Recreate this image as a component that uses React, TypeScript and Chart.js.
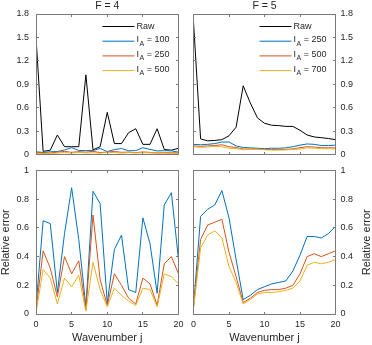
import React, { useEffect, useRef } from 'react';
import { Chart, registerables } from 'chart.js';

Chart.register(...registerables);

// ---------------- data ----------------
const wavenumbers = [0, 1, 2, 3, 4, 5, 6, 7, 8, 9, 10, 11, 12, 13, 14, 15, 16, 17, 18, 19, 20];
const xTicks = [0, 5, 10, 15, 20];

const iaLevelsF4 = [100, 250, 500];
const iaLevelsF5 = [250, 500, 700];

// F = 4, top (absolute)
const rawF4 = [1.5, 0.04, 0.055, 0.25, 0.1, 0.1, 0.1, 1.02, 0.06, 0.1, 0.54, 0.14, 0.14, 0.28, 0.33, 0.13, 0.13, 0.33, 0.065, 0.055, 0.08];
const ia100F4 = [0.035, 0.026, 0.035, 0.038, 0.058, 0.088, 0.052, 0.05, 0.051, 0.077, 0.038, 0.063, 0.077, 0.048, 0.05, 0.087, 0.065, 0.046, 0.049, 0.047, 0.03];
const ia250F4 = [0.03, 0.018, 0.018, 0.03, 0.04, 0.028, 0.037, 0.03, 0.041, 0.024, 0.032, 0.039, 0.028, 0.031, 0.023, 0.033, 0.027, 0.02, 0.023, 0.022, 0.022];
const ia500F4 = [0.015, 0.012, 0.014, 0.018, 0.025, 0.019, 0.027, 0.02, 0.022, 0.017, 0.027, 0.025, 0.018, 0.025, 0.02, 0.023, 0.022, 0.017, 0.018, 0.014, 0.017];

// F = 4, bottom (relative error)
const relIa100F4 = [0.05, 0.65, 0.63, 0.15, 0.56, 0.88, 0.52, 0.05, 0.855, 0.77, 0.075, 0.45, 0.55, 0.17, 0.15, 0.67, 0.49, 0.145, 0.76, 0.845, 0.38];
const relIa250F4 = [0.02, 0.44, 0.32, 0.12, 0.4, 0.28, 0.37, 0.03, 0.69, 0.24, 0.06, 0.28, 0.2, 0.11, 0.07, 0.25, 0.21, 0.06, 0.35, 0.4, 0.28];
const relIa500F4 = [0.01, 0.31, 0.25, 0.07, 0.25, 0.19, 0.27, 0.02, 0.36, 0.17, 0.05, 0.18, 0.13, 0.09, 0.06, 0.18, 0.17, 0.05, 0.28, 0.26, 0.21];

// F = 5, top (absolute)
const rawF5 = [1.7, 0.2, 0.175, 0.18, 0.19, 0.24, 0.35, 0.88, 0.66, 0.47, 0.4, 0.375, 0.37, 0.36, 0.36, 0.31, 0.25, 0.225, 0.215, 0.205, 0.19];
const ia250F5 = [0.13, 0.125, 0.13, 0.14, 0.16, 0.16, 0.11, 0.09, 0.085, 0.08, 0.075, 0.08, 0.08, 0.085, 0.1, 0.12, 0.135, 0.13, 0.115, 0.115, 0.12];
const ia500F5 = [0.11, 0.104, 0.11, 0.115, 0.125, 0.1, 0.09, 0.07, 0.07, 0.07, 0.066, 0.064, 0.063, 0.065, 0.072, 0.087, 0.1, 0.095, 0.086, 0.086, 0.084];
const ia700F5 = [0.1, 0.092, 0.096, 0.104, 0.1, 0.08, 0.077, 0.062, 0.066, 0.066, 0.06, 0.056, 0.057, 0.059, 0.065, 0.071, 0.085, 0.081, 0.075, 0.074, 0.072];

// F = 5, bottom (relative error)
const relIa250F5 = [0.05, 0.68, 0.73, 0.76, 0.86, 0.67, 0.38, 0.1, 0.13, 0.17, 0.19, 0.21, 0.22, 0.23, 0.3, 0.41, 0.54, 0.54, 0.53, 0.56, 0.61];
const relIa500F5 = [0.05, 0.52, 0.62, 0.64, 0.66, 0.43, 0.26, 0.08, 0.11, 0.15, 0.165, 0.17, 0.17, 0.18, 0.2, 0.28, 0.4, 0.42, 0.4, 0.42, 0.44];
const relIa700F5 = [0.04, 0.46, 0.55, 0.58, 0.53, 0.33, 0.22, 0.07, 0.1, 0.14, 0.15, 0.15, 0.155, 0.165, 0.18, 0.23, 0.34, 0.36, 0.35, 0.36, 0.38];

const titles = ['F = 4', 'F = 5'];
const xLabel = 'Wavenumber j';
const yLabel = 'Relative error';
const rawLabel = 'Raw';

// ---------------- styling ----------------
const W = 372;
const H = 345;
const FONT = "'Liberation Sans', Arial, Helvetica, sans-serif";
const TEXT = '#262626';
const BOX = '#7a7a7a';
const C_RAW = '#000000';
const C1 = '#0072BD';
const C2 = '#D95319';
const C3 = '#EDB120';
const COLORS = [C1, C2, C3];

type Series = { data: number[]; color: string };
type LegendEntry = { main: string; sub?: string; rest?: string; color: string };
type Panel = {
  area: { l: number; r: number; t: number; b: number };
  yPos: 'left' | 'right';
  yMax: number;
  yStep: number;
  title?: string;
  showX: boolean;
  yTitle?: string;
  series: Series[];
  legend?: LegendEntry[];
};

const legendFor = (levels: number[]): LegendEntry[] => [
  { main: rawLabel, color: C_RAW },
  ...levels.map((v, i) => ({ main: 'I', sub: 'A', rest: ' = ' + v, color: COLORS[i] })),
];

const panels: Panel[] = [
  {
    area: { l: 36, r: 178.5, t: 14, b: 154.5 },
    yPos: 'left', yMax: 1.8, yStep: 0.3, title: titles[0], showX: false,
    series: [
      { data: rawF4, color: C_RAW },
      { data: ia100F4, color: C1 },
      { data: ia250F4, color: C2 },
      { data: ia500F4, color: C3 },
    ],
    legend: legendFor(iaLevelsF4),
  },
  {
    area: { l: 193.5, r: 335.5, t: 14, b: 154.5 },
    yPos: 'right', yMax: 1.8, yStep: 0.3, title: titles[1], showX: false,
    series: [
      { data: rawF5, color: C_RAW },
      { data: ia250F5, color: C1 },
      { data: ia500F5, color: C2 },
      { data: ia700F5, color: C3 },
    ],
    legend: legendFor(iaLevelsF5),
  },
  {
    area: { l: 36, r: 178.5, t: 170.5, b: 314 },
    yPos: 'left', yMax: 1, yStep: 0.2, showX: true, yTitle: yLabel,
    series: [
      { data: relIa100F4, color: C1 },
      { data: relIa250F4, color: C2 },
      { data: relIa500F4, color: C3 },
    ],
  },
  {
    area: { l: 193.5, r: 335.5, t: 170.5, b: 314 },
    yPos: 'right', yMax: 1, yStep: 0.2, showX: true, yTitle: yLabel,
    series: [
      { data: relIa250F5, color: C1 },
      { data: relIa500F5, color: C2 },
      { data: relIa700F5, color: C3 },
    ],
  },
];

const TITLE_SIZE = 10.5;
const TICK_SIZE = 9;
const LABEL_SIZE = 11;
const LEGEND_SIZE = 9;

const fmtTick = (v: any) => String(Number(Number(v).toFixed(3)));

function makeChart(canvas: HTMLCanvasElement, p: Panel): Chart {
  const { l, r, t, b } = p.area;
  const yAxisW = p.yPos === 'left' ? l : W - r;
  const padding = {
    left: p.yPos === 'left' ? 0 : l,
    right: p.yPos === 'left' ? W - r : 0,
    top: p.title ? 0 : t,
    bottom: p.showX ? 0 : H - b,
  };
  const xAxisH = p.showX ? H - b : 0;

  const boxPlugin = {
    id: 'boxTicks' + Math.random().toString(36).slice(2),
    afterDatasetsDraw(chart: any) {
      const { ctx, chartArea } = chart;
      const L = Math.floor(chartArea.left) + 0.5;
      const R = Math.floor(chartArea.right) + 0.5;
      const T = Math.floor(chartArea.top) + 0.5;
      const B = Math.floor(chartArea.bottom) + 0.5;
      const tl = 2.5;
      ctx.save();
      ctx.strokeStyle = BOX;
      ctx.lineWidth = 1;
      ctx.beginPath();
      ctx.rect(L, T, R - L, B - T);
      const xs = chart.scales.x;
      xTicks.forEach((v) => {
        const px = Math.floor(xs.getPixelForValue(v)) + 0.5;
        ctx.moveTo(px, B); ctx.lineTo(px, B - tl);
        ctx.moveTo(px, T); ctx.lineTo(px, T + tl);
      });
      const ys = chart.scales.y;
      ys.ticks.forEach((tk: any) => {
        const py = Math.floor(ys.getPixelForValue(tk.value)) + 0.5;
        ctx.moveTo(L, py); ctx.lineTo(L + tl, py);
        ctx.moveTo(R, py); ctx.lineTo(R - tl, py);
      });
      ctx.stroke();

      // legend
      if (p.legend) {
        p.legend.forEach((e, i) => {
          const y = chartArea.top + 12.5 + i * 14.7;
          ctx.strokeStyle = e.color;
          ctx.lineWidth = 1;
          ctx.beginPath();
          ctx.moveTo(chartArea.right - 76, y);
          ctx.lineTo(chartArea.right - 44, y);
          ctx.stroke();
          ctx.fillStyle = TEXT;
          ctx.textBaseline = 'middle';
          ctx.textAlign = 'left';
          let x = chartArea.right - 42;
          ctx.font = `${LEGEND_SIZE}px ${FONT}`;
          if (e.sub) {
            ctx.fillText(e.main, x, y - 1.5);
            x += ctx.measureText(e.main).width + 0.5;
            ctx.font = `7px ${FONT}`;
            ctx.fillText(e.sub, x, y + 2.5);
            x += ctx.measureText(e.sub).width;
            ctx.font = `${LEGEND_SIZE}px ${FONT}`;
            ctx.fillText(e.rest || '', x, y - 1.5);
          } else {
            ctx.fillText(e.main, x, y);
          }
        });
      }

      // right-side y title (reads bottom to top like left one)
      if (p.yTitle && p.yPos === 'right') {
        ctx.save();
        ctx.translate(W - 5.5, (chartArea.top + chartArea.bottom) / 2);
        ctx.rotate(-Math.PI / 2);
        ctx.fillStyle = TEXT;
        ctx.font = `${LABEL_SIZE}px ${FONT}`;
        ctx.textAlign = 'center';
        ctx.textBaseline = 'middle';
        ctx.fillText(p.yTitle, 0, 0);
        ctx.restore();
      }
      ctx.restore();
    },
  };

  return new Chart(canvas, {
    type: 'line',
    data: {
      datasets: p.series.map((s, i) => ({
        data: wavenumbers.map((x, k) => ({ x, y: s.data[k] })),
        borderColor: s.color,
        backgroundColor: s.color,
        borderWidth: 1,
        pointRadius: 0,
        tension: 0,
        fill: false,
        order: p.series.length - i,
      })),
    },
    options: {
      responsive: false,
      animation: false,
      events: [],
      layout: { padding },
      plugins: {
        legend: { display: false },
        tooltip: { enabled: false },
        title: {
          display: !!p.title,
          text: p.title || '',
          fullSize: false,
          color: TEXT,
          font: { family: FONT, size: TITLE_SIZE, weight: 'normal', lineHeight: 1 },
          padding: { top: 1, bottom: t - 1 - TITLE_SIZE },
        },
      },
      scales: {
        x: {
          type: 'linear',
          min: 0,
          max: 20,
          grid: { display: false, drawTicks: false },
          border: { display: false },
          ticks: {
            display: p.showX,
            stepSize: 5,
            autoSkip: false,
            maxRotation: 0,
            padding: 5,
            color: TEXT,
            font: { family: FONT, size: TICK_SIZE },
            callback: fmtTick,
          },
          title: {
            display: p.showX,
            text: xLabel,
            color: TEXT,
            padding: 0,
            font: { family: FONT, size: LABEL_SIZE, lineHeight: 1.2 },
          },
          afterFit: (s: any) => { s.height = xAxisH; },
        },
        y: {
          type: 'linear',
          position: p.yPos,
          min: 0,
          max: p.yMax,
          grid: { display: false, drawTicks: false },
          border: { display: false },
          ticks: {
            stepSize: p.yStep,
            autoSkip: false,
            padding: p.yPos === 'left' ? 7 : 5,
            color: TEXT,
            font: { family: FONT, size: TICK_SIZE },
            callback: fmtTick,
          },
          title: {
            display: !!p.yTitle && p.yPos === 'left',
            text: p.yTitle || '',
            color: TEXT,
            padding: 0,
            font: { family: FONT, size: LABEL_SIZE, lineHeight: 1 },
          },
          afterFit: (s: any) => { s.width = yAxisW; },
        },
      },
    } as any,
    plugins: [boxPlugin],
  });
}

export default function App() {
  const refs = [useRef<HTMLCanvasElement>(null), useRef<HTMLCanvasElement>(null), useRef<HTMLCanvasElement>(null), useRef<HTMLCanvasElement>(null)];
  useEffect(() => {
    const charts = panels.map((p, i) => makeChart(refs[i].current as HTMLCanvasElement, p));
    return () => charts.forEach((c) => c.destroy());
  }, []);
  return (
    <div style={{ position: 'absolute', left: 0, top: 0, width: W, height: H, background: '#fff' }}>
      {panels.map((_, i) => (
        <canvas
          key={i}
          ref={refs[i]}
          width={W}
          height={H}
          style={{ position: 'absolute', left: 0, top: 0, width: W, height: H }}
        />
      ))}
    </div>
  );
}
